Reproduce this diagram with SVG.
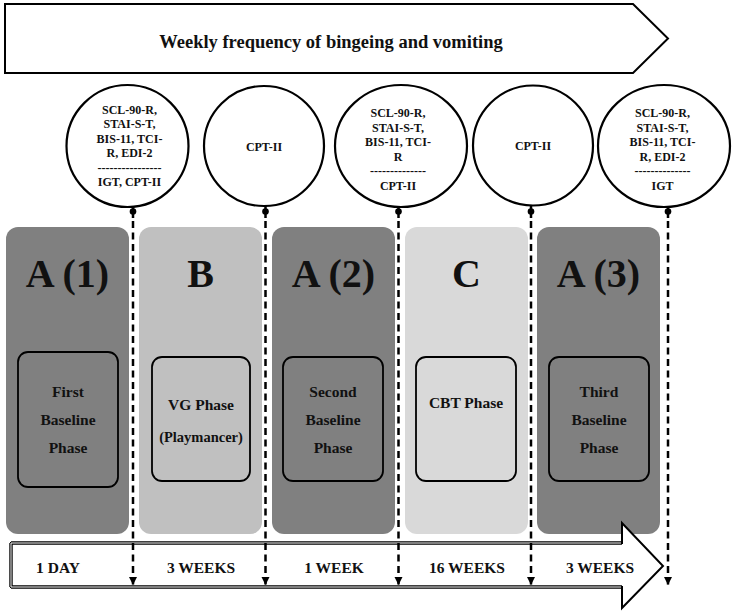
<svg xmlns="http://www.w3.org/2000/svg" width="733" height="614" viewBox="0 0 733 614">
<defs>
<style>
text{font-family:"Liberation Serif","Times New Roman",serif;font-weight:bold;fill:#111;text-anchor:middle}
.outline{fill:#fff;stroke:#000;stroke-width:2}
.circ{fill:#fff;stroke:#000;stroke-width:2.2}
.dark{fill:#808080}
.mid{fill:#c0c0c0}
.light{fill:#d9d9d9}
.inner{fill:none;stroke:#000;stroke-width:1.8}
.big{font-size:40px}
.ct{font-size:12px}
.it{font-size:15.5px}
.bt{font-size:15.5px}
.dash{stroke:#000;stroke-width:2.5;stroke-dasharray:7 4.5;fill:none}
.stem{stroke:#000;stroke-width:2.5}
</style>
<marker id="ah" viewBox="0 0 10 10" refX="10" refY="5" markerWidth="3.4" markerHeight="3.4" orient="auto" markerUnits="strokeWidth">
<path d="M0,0 L10,5 L0,10 Z" fill="#000"/>
</marker>
</defs>

<g id="top-arrow">
<path class="outline" d="M5,4 H633 L668,38.5 L633,73 H5 Z"/>
<text x="331" y="48" style="font-size:18.5px">Weekly frequency of bingeing and vomiting</text>
</g>

<g id="phase-a1">
<rect class="dark" x="6" y="227" width="123" height="307" rx="12"/>
<text class="big" x="67.5" y="287">A (1)</text>
<rect class="inner" x="18" y="352" width="100" height="135" rx="10"/>
<text class="it" x="68" y="397">First</text>
<text class="it" x="68" y="425">Baseline</text>
<text class="it" x="68" y="453">Phase</text>
</g>

<g id="phase-b">
<rect class="mid" x="139" y="227" width="123" height="307" rx="12"/>
<text class="big" x="200.5" y="287">B</text>
<rect class="inner" x="152" y="357" width="98" height="124" rx="10"/>
<text class="it" x="201" y="410">VG Phase</text>
<text class="it" x="201" y="442" style="font-size:14.5px">(Playmancer)</text>
</g>

<g id="phase-a2">
<rect class="dark" x="272" y="227" width="123" height="307" rx="12"/>
<text class="big" x="333.5" y="287">A (2)</text>
<rect class="inner" x="283" y="357" width="100" height="124" rx="10"/>
<text class="it" x="333" y="397">Second</text>
<text class="it" x="333" y="425">Baseline</text>
<text class="it" x="333" y="453">Phase</text>
</g>

<g id="phase-c">
<rect class="light" x="405" y="227" width="123" height="307" rx="12"/>
<text class="big" x="466.5" y="287">C</text>
<rect class="inner" x="416" y="357" width="100" height="124" rx="10"/>
<text class="it" x="466" y="408">CBT Phase</text>
</g>

<g id="phase-a3">
<rect class="dark" x="537" y="227" width="123" height="307" rx="12"/>
<text class="big" x="598.5" y="287">A (3)</text>
<rect class="inner" x="549" y="357" width="100" height="124" rx="10"/>
<text class="it" x="599" y="397">Third</text>
<text class="it" x="599" y="425">Baseline</text>
<text class="it" x="599" y="453">Phase</text>
</g>

<g id="bottom-arrow">
<path class="outline" d="M11,543 H622 V523 L663,566 L622,608 V587 H11 Z"/>
<path d="M11,543 H622 M11,587 H622 M11,543 V587" fill="none" stroke="#000" stroke-width="3.4"/>
<path d="M11,543 H621 M11,587 H621 M11,543 V587" fill="none" stroke="#fff" stroke-width="1"/>
<text class="bt" x="58" y="573">1 DAY</text>
<text class="bt" x="201" y="573">3 WEEKS</text>
<text class="bt" x="334" y="573">1 WEEK</text>
<text class="bt" x="467" y="573">16 WEEKS</text>
<text class="bt" x="600" y="573">3 WEEKS</text>
</g>

<g id="connectors">
<line class="dash" x1="133" y1="221" x2="133" y2="585" marker-end="url(#ah)"/>
<line class="dash" x1="265.5" y1="221" x2="265.5" y2="585" marker-end="url(#ah)"/>
<line class="dash" x1="398.5" y1="221" x2="398.5" y2="585" marker-end="url(#ah)"/>
<line class="dash" x1="531" y1="221" x2="531" y2="585" marker-end="url(#ah)"/>
<line class="dash" x1="668" y1="221" x2="668" y2="585" marker-end="url(#ah)"/>
</g>

<g id="assessment-1">
<line class="stem" x1="133" y1="205" x2="133" y2="218"/>
<circle cx="133" cy="211.5" r="3.3" fill="#000"/>
<circle class="circ" cx="127.5" cy="146" r="61"/>
<text class="ct" x="129.5" y="113.5">SCL-90-R,</text>
<text class="ct" x="129.5" y="128">STAI-S-T,</text>
<text class="ct" x="129.5" y="142.5">BIS-11, TCI-</text>
<text class="ct" x="129.5" y="157">R, EDI-2</text>
<text class="ct" x="129.5" y="171.5">----------------</text>
<text class="ct" x="129.5" y="186">IGT, CPT-II</text>
</g>

<g id="assessment-2">
<line class="stem" x1="265.5" y1="205" x2="265.5" y2="218"/>
<circle cx="265.5" cy="211.5" r="3.3" fill="#000"/>
<circle class="circ" cx="264" cy="146" r="60"/>
<text class="ct" x="264" y="151">CPT-II</text>
</g>

<g id="assessment-3">
<line class="stem" x1="398.5" y1="205" x2="398.5" y2="218"/>
<circle cx="398.5" cy="211.5" r="3.3" fill="#000"/>
<ellipse class="circ" cx="401" cy="146" rx="66" ry="61"/>
<text class="ct" x="398" y="117">SCL-90-R,</text>
<text class="ct" x="398" y="131.5">STAI-S-T,</text>
<text class="ct" x="398" y="146">BIS-11, TCI-</text>
<text class="ct" x="398" y="160.5">R</text>
<text class="ct" x="398" y="175">--------------</text>
<text class="ct" x="398" y="190">CPT-II</text>
</g>

<g id="assessment-4">
<line class="stem" x1="531" y1="205" x2="531" y2="218"/>
<circle cx="531" cy="211.5" r="3.3" fill="#000"/>
<circle class="circ" cx="533" cy="145.5" r="60"/>
<text class="ct" x="533" y="150">CPT-II</text>
</g>

<g id="assessment-5">
<line class="stem" x1="668" y1="205" x2="668" y2="218"/>
<circle cx="668" cy="211.5" r="3.3" fill="#000"/>
<ellipse class="circ" cx="664" cy="146" rx="66" ry="61"/>
<text class="ct" x="662.5" y="117">SCL-90-R,</text>
<text class="ct" x="662.5" y="131.5">STAI-S-T,</text>
<text class="ct" x="662.5" y="146">BIS-11, TCI-</text>
<text class="ct" x="662.5" y="160.5">R, EDI-2</text>
<text class="ct" x="662.5" y="175">--------------</text>
<text class="ct" x="662.5" y="190">IGT</text>
</g>
</svg>
